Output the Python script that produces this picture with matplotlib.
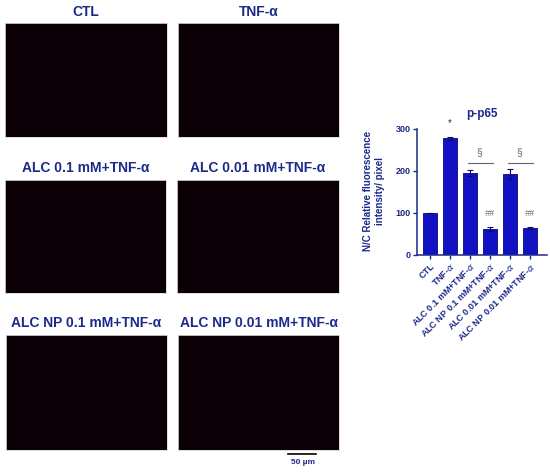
import matplotlib
matplotlib.use("Agg")
import matplotlib.pyplot as plt
import numpy as np

# ---- data ----
panel_titles = ["CTL", "TNF-α",
                "ALC 0.1 mM+TNF-α", "ALC 0.01 mM+TNF-α",
                "ALC NP 0.1 mM+TNF-α", "ALC NP 0.01 mM+TNF-α"]
categories = ["CTL", r"TNF-$\alpha$", r"ALC 0.1 mM+TNF-$\alpha$", r"ALC NP 0.1 mM+TNF-$\alpha$",
              r"ALC 0.01 mM+TNF-$\alpha$", r"ALC NP 0.01 mM+TNF-$\alpha$"]
values = [100, 278, 195, 62, 193, 64]
errors = [0, 3, 7, 5, 12, 2]
y_ticks = [0, 100, 200, 300]
chart_title = "p-p65"
y_label = "N/C Relative fluorescence\nintensity/ pixel"
scale_label = "50 µm"

W, H = 550, 474
fig = plt.figure(figsize=(W / 100, H / 100), dpi=100)
plt.rcParams['font.family'] = ['Liberation Sans', 'DejaVu Sans']
plt.rcParams['mathtext.fontset'] = 'dejavusans'

navy = "#1b2a8b"
bar_col = "#1212c4"

def px_axes(x0, y0, x1, y1):
    return fig.add_axes([x0 / W, 1 - y1 / H, (x1 - x0) / W, (y1 - y0) / H])

# ---- microscopy panels (dark placeholders) ----
panel_boxes = [(5, 23, 167, 137), (178, 23, 339, 137),
               (5, 180, 166, 293), (177, 180, 339, 293),
               (6, 335, 167, 450), (178, 335, 339, 450)]
title_y = [12, 12, 168, 168, 323, 323]
for (x0, y0, x1, y1), t, ty in zip(panel_boxes, panel_titles, title_y):
    ax = px_axes(x0, y0, x1, y1)
    ax.set_facecolor("#0b0006")
    ax.set_xticks([]); ax.set_yticks([])
    for s in ax.spines.values():
        s.set_color("#d8d8d8"); s.set_linewidth(0.6)
    fig.text((x0 + x1) / 2 / W, 1 - ty / H, t, ha="center", va="center",
             fontsize=10, fontweight="bold", color=navy)

# scale bar
fig.add_artist(plt.Line2D([288 / W, 316 / W], [1 - 454 / H, 1 - 454 / H],
                          color="black", lw=1.2))
fig.text(303 / W, 1 - 463 / H, scale_label, ha="center", va="center",
         fontsize=6, fontweight="bold", color=navy)

# ---- bar chart ----
ax = px_axes(417, 129, 547, 255)
x = np.arange(len(values))
ax.bar(x, values, width=0.67, color=bar_col, edgecolor="#0a0a70", linewidth=0.6,
       yerr=errors, error_kw=dict(ecolor="#0a0a70", elinewidth=0.8, capsize=2.5, capthick=0.8))
ax.set_ylim(0, 300)
ax.set_xlim(-0.65, 5.85)
ax.set_yticks(y_ticks)
ax.set_yticklabels([str(v) for v in y_ticks], fontsize=6.5, fontweight="bold", color=navy)
ax.set_xticks(x)
ax.set_xticklabels(categories, rotation=45, ha="right", rotation_mode="anchor",
                   fontsize=6.5, fontweight="bold", color=navy)
for s in ["top", "right"]:
    ax.spines[s].set_visible(False)
for s in ["left", "bottom"]:
    ax.spines[s].set_color(navy); ax.spines[s].set_linewidth(1.1)
ax.tick_params(axis="both", color=navy, width=1.0, length=3, pad=1.5)
ax.set_facecolor("white")
ax.set_title(chart_title, fontsize=8.5, fontweight="bold", color=navy, pad=9)

# significance marks
ax.text(1, 303, "*", ha="center", va="bottom", fontsize=7, color="#333333")
for a, b in [(2, 3), (4, 5)]:
    ax.plot([a - 0.1, b + 0.15], [219, 219], color="#666666", lw=0.8)
    ax.text((a + b) / 2 - 0.05, 245, "§", ha="center", va="center", fontsize=7.5, color="#666666")
for i in [3, 5]:
    ax.text(i, 98, "##", ha="center", va="center",
            fontsize=6.5, color="#666666", style="italic")

fig.text(374 / W, 1 - 191 / H, y_label, ha="center", va="center", rotation=90,
         fontsize=7, fontweight="bold", color=navy, linespacing=1.15)

fig.savefig("out.png", dpi=100, facecolor="white")
